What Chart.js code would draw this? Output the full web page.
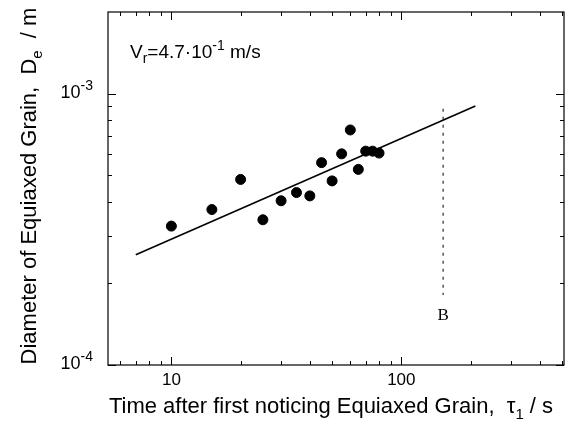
<!DOCTYPE html>
<html>
<head>
<meta charset="utf-8">
<script src="https://cdn.jsdelivr.net/npm/chart.js@4"></script>
<style>
  html, body { margin: 0; padding: 0; background: #fff; }
  #wrap { width: 574px; height: 428px; }
</style>
</head>
<body>
<div id="wrap"><canvas id="chart" width="574" height="428"></canvas></div>
<script>
// measured grain sizes
const timeValues = [10, 15, 20, 25, 30, 35, 40, 45, 50, 55, 60, 65, 70, 75, 80];
const diameterValues = [3.25e-4, 3.74e-4, 4.83e-4, 3.43e-4, 4.03e-4, 4.32e-4, 4.20e-4, 5.57e-4,
  4.77e-4, 6.00e-4, 7.35e-4, 5.26e-4, 6.14e-4, 6.14e-4, 6.04e-4];

// fitted line end points
const fitTimes = [7, 210];
const fitDiameters = [2.55e-4, 9.0e-4];

// marker line B
const markTimes = [152, 152];
const markDiameters = [8.8e-4, 1.81e-4];
const markLabel = { x: 152, y: 1.52e-4, text: 'B' };

const xRange = [5.3, 510];
const yRange = [1e-4, 2e-3];
const xMajorTicks = [10, 100];
const yMajorTicks = [1e-4, 1e-3];
const xMinorTicks = [6, 7, 8, 9, 20, 30, 40, 50, 60, 70, 80, 90, 200, 300, 400, 500];
const yMinorTicks = [2e-4, 3e-4, 4e-4, 5e-4, 6e-4, 7e-4, 8e-4, 9e-4];
const xTickLabels = ['10', '100'];
const yTickLabels = [['10', '-4'], ['10', '-3']];

const FONT = '"Liberation Sans", Arial, sans-serif';

// draws a run of [text, 'n'|'sub'|'sup'] pieces
function drawRich(ctx, parts, x, y, size, align, smallFactor = 0.7) {
  const small = Math.round(size * smallFactor);
  let total = 0;
  parts.forEach(([t, kind]) => {
    ctx.font = (kind === 'n' ? size : small) + 'px ' + FONT;
    total += ctx.measureText(t).width;
  });
  let cx = x;
  if (align === 'center') cx = x - total / 2;
  if (align === 'right') cx = x - total;
  ctx.textAlign = 'left';
  ctx.textBaseline = 'alphabetic';
  parts.forEach(([t, kind]) => {
    ctx.font = (kind === 'n' ? size : small) + 'px ' + FONT;
    let dy = 0;
    if (kind === 'sub') dy = size * 0.25;
    if (kind === 'sup') dy = -size * 0.42;
    ctx.fillText(t, cx, y + dy);
    cx += ctx.measureText(t).width;
  });
}

const framePlugin = {
  id: 'frame',
  afterDraw(chart) {
    const { ctx, chartArea: a, scales } = chart;
    const xs = scales.x, ys = scales.y;
    ctx.save();
    ctx.strokeStyle = '#000';
    ctx.fillStyle = '#000';
    ctx.lineWidth = 1.2;
    ctx.strokeRect(a.left, a.top, a.right - a.left, a.bottom - a.top);

    ctx.lineWidth = 1;
    ctx.beginPath();
    const xTick = (v, len) => {
      const p = Math.round(xs.getPixelForValue(v)) + 0.5;
      ctx.moveTo(p, a.bottom); ctx.lineTo(p, a.bottom - len);
      ctx.moveTo(p, a.top); ctx.lineTo(p, a.top + len);
    };
    const yTick = (v, len) => {
      const p = Math.round(ys.getPixelForValue(v)) + 0.5;
      ctx.moveTo(a.left, p); ctx.lineTo(a.left + len, p);
      ctx.moveTo(a.right, p); ctx.lineTo(a.right - len, p);
    };
    xMajorTicks.forEach(v => xTick(v, 8));
    xMinorTicks.forEach(v => xTick(v, 4));
    yMajorTicks.forEach(v => yTick(v, 8));
    yMinorTicks.forEach(v => yTick(v, 4));
    ctx.stroke();

    xMajorTicks.forEach((v, i) => {
      drawRich(ctx, [[xTickLabels[i], 'n']], xs.getPixelForValue(v), a.bottom + 20, 17, 'center');
    });
    yMajorTicks.forEach((v, i) => {
      drawRich(ctx, [[yTickLabels[i][0], 'n'], [yTickLabels[i][1], 'sup']], a.left - 15, ys.getPixelForValue(v) + 4, 18, 'right', 0.8);
    });

    // axis titles
    drawRich(ctx, [['Time after first noticing Equiaxed Grain,  \u03c4', 'n'], ['1', 'sub'], [' / s', 'n']],
      (a.left + a.right) / 2 - 5, 413, 22, 'center');
    ctx.save();
    ctx.translate(36, 186);
    ctx.rotate(-Math.PI / 2);
    drawRich(ctx, [['Diameter of Equiaxed Grain,  D', 'n'], ['e', 'sub'], ['  / m', 'n']], 0, 0, 22, 'center');
    ctx.restore();

    // annotation
    drawRich(ctx, [['V', 'n'], ['r', 'sub'], ['=4.7\u00b710', 'n'], ['-1', 'sup'], [' m/s', 'n']], 130, 58, 19, 'left', 0.75);

    ctx.font = '17px "Liberation Serif", "DejaVu Serif", serif';
    ctx.textAlign = 'center';
    ctx.textBaseline = 'middle';
    ctx.fillText(markLabel.text, xs.getPixelForValue(markLabel.x), ys.getPixelForValue(markLabel.y));
    ctx.restore();
  }
};

const toPoints = (xsArr, ysArr) => xsArr.map((x, i) => ({ x, y: ysArr[i] }));

new Chart(document.getElementById('chart'), {
  type: 'scatter',
  data: {
    datasets: [
      {
        label: 'fit',
        data: toPoints(fitTimes, fitDiameters),
        showLine: true,
        borderColor: '#000',
        borderWidth: 1.6,
        pointRadius: 0,
      },
      {
        label: 'B',
        data: toPoints(markTimes, markDiameters),
        showLine: true,
        borderColor: '#000',
        borderWidth: 1,
        borderDash: [3, 5],
        pointRadius: 0,
      },
      {
        label: 'data',
        data: toPoints(timeValues, diameterValues),
        backgroundColor: '#000',
        borderColor: '#000',
        pointRadius: 5,
        pointStyle: 'circle',
      },
    ],
  },
  options: {
    responsive: false,
    animation: false,
    layout: { padding: { left: 108, right: 10, top: 12, bottom: 63 } },
    plugins: { legend: { display: false }, tooltip: { enabled: false } },
    scales: {
      x: { type: 'logarithmic', display: false, min: xRange[0], max: xRange[1] },
      y: { type: 'logarithmic', display: false, min: yRange[0], max: yRange[1] },
    },
  },
  plugins: [framePlugin],
});
</script>
</body>
</html>
